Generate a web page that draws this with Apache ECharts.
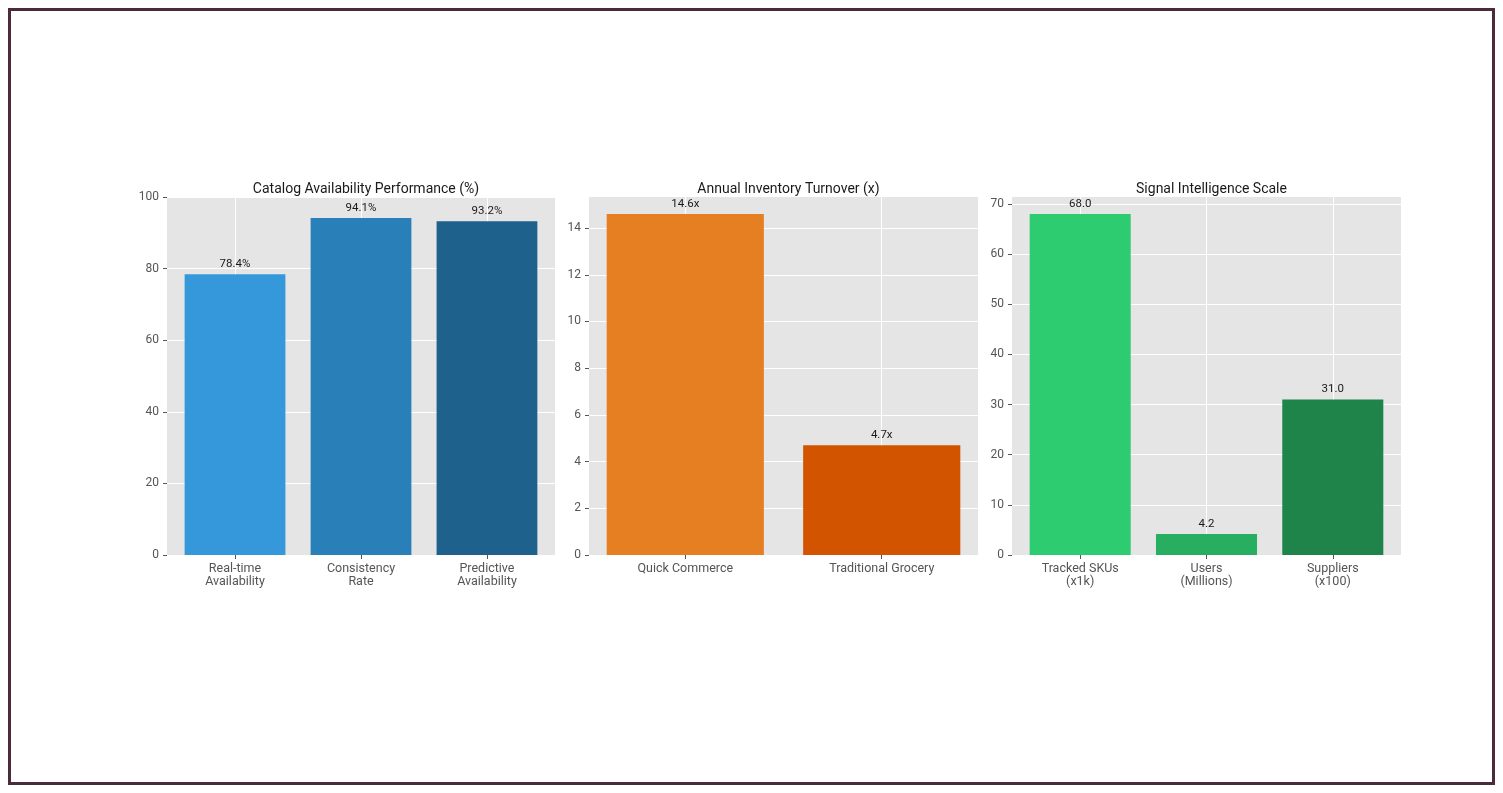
<!DOCTYPE html>
<html>
<head>
<meta charset="utf-8">
<script src="https://cdn.jsdelivr.net/npm/echarts@6/dist/echarts.min.js"></script>
<style>
  html, body { margin: 0; padding: 0; background: #ffffff; }
  #chart { position: absolute; left: 0; top: 0; width: 1503px; height: 793px; }
  #frame { position: absolute; left: 8px; top: 8px; width: 1481px; height: 771px;
           border: 3px solid #4b2b3b; pointer-events: none; }
</style>
</head>
<body>
<div id="chart"></div>
<div id="frame"></div>
<script>
// ---- data ----
const titles = ['Catalog Availability Performance (%)', 'Annual Inventory Turnover (x)', 'Signal Intelligence Scale'];

const categories1 = ['Real-time\nAvailability', 'Consistency\nRate', 'Predictive\nAvailability'];
const values1 = [78.4, 94.1, 93.2];
const colors1 = ['#3498db', '#2980b9', '#1f618d'];
const yTicks1 = [0, 20, 40, 60, 80, 100];
const yMax1 = 100;

const categories2 = ['Quick Commerce', 'Traditional Grocery'];
const values2 = [14.6, 4.7];
const colors2 = ['#e67e22', '#d35400'];
const yTicks2 = [0, 2, 4, 6, 8, 10, 12, 14];
const yMax2 = 15.33;

const categories3 = ['Tracked SKUs\n(x1k)', 'Users\n(Millions)', 'Suppliers\n(x100)'];
const values3 = [68.0, 4.2, 31.0];
const colors3 = ['#2ecc71', '#27ae60', '#1e8449'];
const yTicks3 = [0, 10, 20, 30, 40, 50, 60, 70];
const yMax3 = 71.4;

const labelFormats = [
  v => v.toFixed(1) + '%',
  v => v.toFixed(1) + 'x',
  v => v.toFixed(1)
];

// ---- layout ----
const gridLefts = [167, 589, 1012];
const gridWidths = [388, 389, 389];
const gridTop = 197;
const gridHeight = 358;
const FONT = 'Roboto, "Noto Sans", sans-serif';

const panels = [
  { cats: categories1, vals: values1, cols: colors1, ticks: yTicks1, ymax: yMax1 },
  { cats: categories2, vals: values2, cols: colors2, ticks: yTicks2, ymax: yMax2 },
  { cats: categories3, vals: values3, cols: colors3, ticks: yTicks3, ymax: yMax3 }
];

const option = {
  animation: false,
  backgroundColor: '#ffffff',
  textStyle: { fontFamily: FONT },
  title: [], grid: [], xAxis: [], yAxis: [], series: []
};

panels.forEach((p, k) => {
  const n = p.cats.length;
  const pad = 0.05 * (n - 1 + 0.8);
  const xmin = -0.4 - pad, xmax = n - 1 + 0.4 + pad;
  const idx = p.cats.map((c, i) => i);
  const barW = 0.8 * gridWidths[k] / (xmax - xmin);

  option.title.push({
    text: titles[k],
    left: gridLefts[k] + gridWidths[k] / 2,
    textAlign: 'center',
    top: 177,
    textStyle: { fontFamily: FONT, fontSize: 14, fontWeight: 'normal', color: '#1a1a1a' }
  });
  option.grid.push({
    left: gridLefts[k], top: gridTop, width: gridWidths[k], height: gridHeight,
    show: true, backgroundColor: '#e5e5e5', borderWidth: 0, containLabel: false
  });
  option.xAxis.push({
    type: 'value', gridIndex: k, min: xmin, max: xmax, position: 'bottom',
    axisLine: { show: false, onZero: false },
    axisTick: { show: true, length: 4, lineStyle: { color: '#555555', width: 1 }, customValues: idx },
    axisLabel: {
      customValues: idx, margin: 7, fontFamily: FONT, fontSize: 12.5, color: '#555555',
      lineHeight: 13,
      formatter: v => p.cats[Math.round(v)] || ''
    },
    splitLine: { show: true, lineStyle: { color: '#ffffff', width: 1 } }
  });
  option.yAxis.push({
    type: 'value', gridIndex: k, min: 0, max: p.ymax, position: 'left',
    axisLine: { show: false, onZero: false },
    axisTick: { show: true, length: 4, lineStyle: { color: '#555555', width: 1 }, customValues: p.ticks },
    axisLabel: { customValues: p.ticks, margin: 8, fontFamily: FONT, fontSize: 12, color: '#555555' },
    splitLine: { show: true, lineStyle: { color: '#ffffff', width: 1 } }
  });
  option.series.push({
    type: 'bar', xAxisIndex: k, yAxisIndex: k,
    barWidth: barW,
    data: p.vals.map((v, i) => ({ value: [i, v], itemStyle: { color: p.cols[i] } })),
    label: {
      show: true, position: 'top', distance: 4,
      fontFamily: FONT, fontSize: 11.5, color: '#1a1a1a',
      formatter: prm => labelFormats[k](prm.value[1])
    }
  });
});

const chart = echarts.init(document.getElementById('chart'), null, { renderer: 'canvas' });
chart.setOption(option);
</script>
</body>
</html>
